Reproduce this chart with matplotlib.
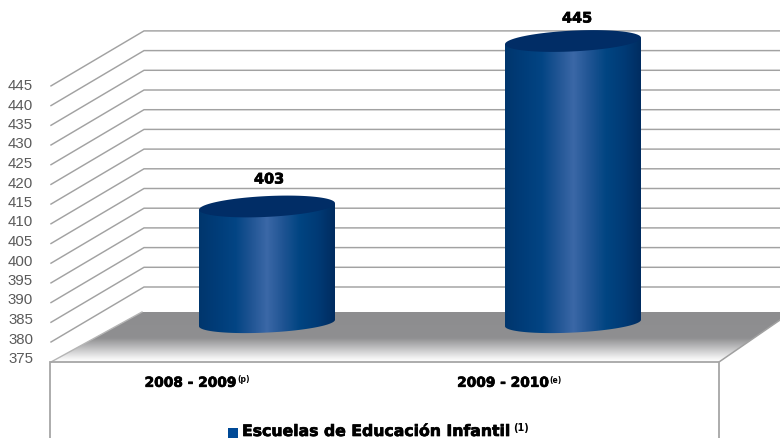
import numpy as np
import matplotlib
matplotlib.use("Agg")
import matplotlib.pyplot as plt
import matplotlib.patheffects as pe
from matplotlib.colors import LinearSegmentedColormap
from matplotlib.patches import PathPatch, Polygon, Rectangle
from matplotlib.path import Path

# Datos
categories = ["2008 - 2009", "2009 - 2010"]
category_marks = ["(p)", "(e)"]
values = [403, 445]
y_ticks = [375, 380, 385, 390, 395, 400, 405, 410, 415, 420, 425, 430, 435, 440, 445]
series_name = "Escuelas de Educación Infantil"

W, H = 780, 438
PX_PER_UNIT = 19.7 / 5
Y_375 = 361.7


def xd(px):
    # pixel horizontal -> posicion de categoria
    return (px - 267) / 306


def yd(px):
    # pixel vertical -> valor del eje
    return 375 + (Y_375 - px) / PX_PER_UNIT


fig = plt.figure(figsize=(W / 100, H / 100), dpi=100)
ax = fig.add_axes([0, 0, 1, 1])
ax.set_xlim(xd(0), xd(W))
ax.set_ylim(yd(H), yd(0))
ax.axis("off")

grid_color = "#a2a2a2"
depth_x = 93 / 306
depth_y = 55 / PX_PER_UNIT
x_front = xd(51)
bold_stroke = [pe.withStroke(linewidth=0.5, foreground="black")]

# Rejilla en perspectiva
for v in y_ticks[1:]:
    ax.plot([x_front, x_front + depth_x, xd(W)], [v, v + depth_y, v + depth_y],
            color=grid_color, lw=1.05, zorder=1, solid_joinstyle="miter")
# las etiquetas van algo mas juntas que las lineas
for v in y_ticks:
    ax.text(xd(33), yd(359 - (v - 375) * 3.9), str(v), ha="right", va="center",
            color="#5a5a5a", fontsize=10.8, family="Liberation Sans")

# Suelo con degradado
floor = Polygon([(xd(51), yd(362)), (xd(142), yd(312)), (xd(780), yd(312)),
                 (xd(780), yd(320)), (xd(719), yd(362))], closed=True,
                facecolor="none", edgecolor="none", transform=ax.transData)
ax.add_patch(floor)
floor_cmap = LinearSegmentedColormap.from_list(
    "suelo", [(0, "#8d8d8f"), (0.52, "#8f8f91"), (0.74, "#c4c4c5"), (0.92, "#f1f1f1"), (1, "#ffffff")])
floor_img = ax.imshow(np.linspace(0, 1, 100).reshape(-1, 1), cmap=floor_cmap, aspect="auto",
                      extent=[xd(0), xd(W), yd(362), yd(312)], origin="upper", zorder=2)
floor_img.set_clip_path(floor)
ax.plot([xd(719), xd(780)], [yd(362), yd(320)], color="#a0a0a0", lw=1.1, zorder=3)
ax.plot([xd(51), xd(142)], [yd(362), yd(312)], color="#b5b5b5", lw=1.0, zorder=3)

# Caja frontal
ax.plot([xd(50), xd(50), xd(719), xd(719)], [yd(H), yd(362), yd(362), yd(H)],
        color="#a6a6a6", lw=1.3, zorder=3, solid_joinstyle="miter")

# Cilindros, con la elipse algo inclinada
cyl_cmap = LinearSegmentedColormap.from_list(
    "cilindro", [(0, "#01366d"), (0.12, "#003c78"), (0.27, "#034584"), (0.38, "#1f5493"), (0.5, "#3b68a7"),
                 (0.62, "#1f5493"), (0.74, "#014582"), (0.88, "#003a75"), (1, "#012c60")])
half_w = 68 / 306
ry = 10.4 / PX_PER_UNIT
tilt = 6.5 / PX_PER_UNIT / (2 * half_w)
plane_dy = (Y_375 - 316.8) / PX_PER_UNIT
bar_bottom = yd(323)
label_offset_px = [27, 22.5]
label_shift_px = [2, 4]

for i, v in enumerate(values):
    top = v + plane_dy
    t = np.linspace(np.pi, 2 * np.pi, 60)
    xs = half_w * np.cos(t)
    ys = bar_bottom + ry * 0.92 * np.sin(t) + tilt * xs
    top_l = top - tilt * half_w
    top_r = top + tilt * half_w
    verts = list(zip(i + xs, ys)) + [(i + half_w, top_r), (i - half_w, top_l), (i + xs[0], ys[0])]
    body = PathPatch(Path(verts), facecolor="none", edgecolor="none", transform=ax.transData)
    ax.add_patch(body)
    img = ax.imshow(np.linspace(0, 1, 200).reshape(1, -1), cmap=cyl_cmap, aspect="auto",
                    extent=[i - half_w, i + half_w, bar_bottom - 2 * ry, top + 2 * ry], zorder=4)
    img.set_clip_path(body)
    a = np.linspace(0, 2 * np.pi, 100)
    ex = half_w * np.cos(a)
    ey = top + ry * np.sin(a) + tilt * ex
    ax.add_patch(Polygon(np.column_stack([i + ex, ey]), closed=True, facecolor="#012d66",
                         edgecolor="none", zorder=5))
    ax.text(i + xd(267 + label_shift_px[i]), yd(Y_375 - (top - 375) * PX_PER_UNIT - label_offset_px[i]),
            str(v), ha="center", va="center", fontsize=10.4, fontweight="bold",
            color="black", family="DejaVu Sans", zorder=6, path_effects=bold_stroke)

# Etiquetas de categoria
cat_x = [190.5, 503]
mark_x = [237.5, 549.5]
for label, mark, cx, mx in zip(categories, category_marks, cat_x, mark_x):
    ax.text(xd(cx), yd(382.8), label, ha="center", va="center", fontsize=9.9,
            fontweight="bold", color="black", family="DejaVu Sans", path_effects=bold_stroke)
    ax.text(xd(mx), yd(380), mark, ha="left", va="center", fontsize=5.5,
            fontweight="bold", color="black", family="DejaVu Sans")

# Leyenda
ax.add_patch(Rectangle((xd(228), yd(438)), 10 / 306, 10 / PX_PER_UNIT,
                       facecolor="#004a97", edgecolor="none", zorder=6))
ax.text(xd(242), yd(431.5), series_name, ha="left", va="center", fontsize=11.3,
        fontweight="bold", color="black", family="DejaVu Sans", path_effects=bold_stroke)
ax.text(xd(513), yd(428), "(1)", ha="left", va="center", fontsize=7,
        fontweight="bold", color="black", family="DejaVu Sans")

ax.set_xlim(xd(0), xd(W))
ax.set_ylim(yd(H), yd(0))
fig.savefig("out.png", dpi=100, facecolor="white")
plt.close(fig)
